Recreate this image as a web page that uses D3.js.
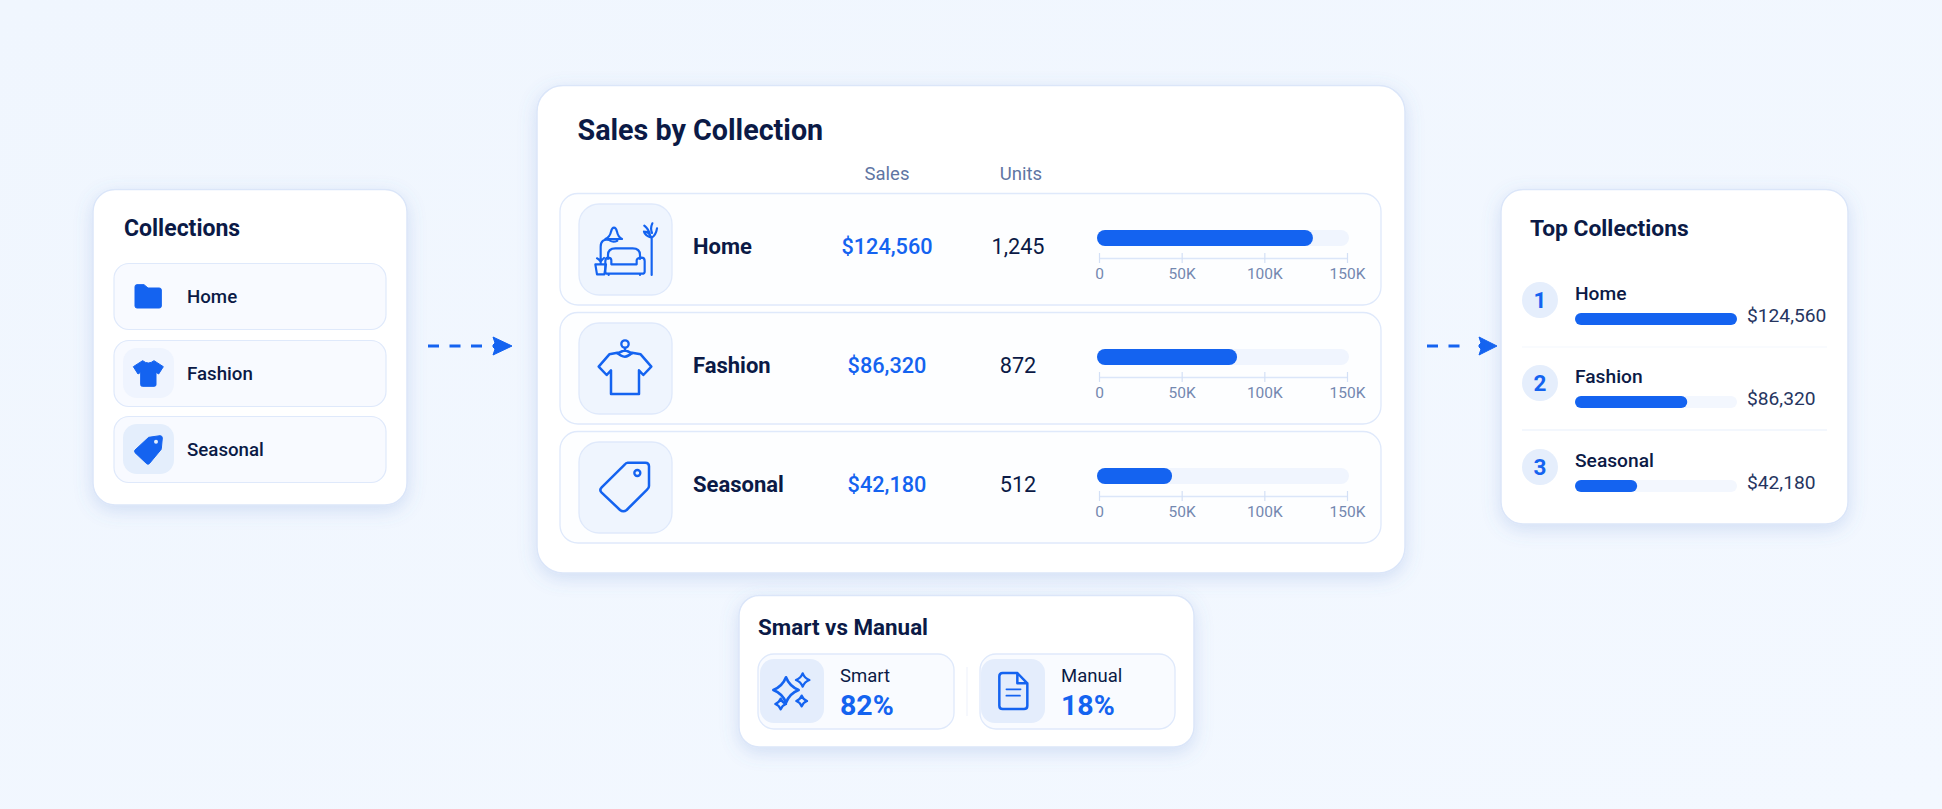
<!DOCTYPE html>
<html><head><meta charset="utf-8">
<script src="https://cdn.jsdelivr.net/npm/d3@7/dist/d3.min.js"></script>
<style>
html,body{margin:0;padding:0;background:#f1f6fe;overflow:hidden}
svg{display:block}
text{font-family:Roboto,Inter,"Noto Sans",sans-serif}
</style></head><body>
<svg id="c" width="1942" height="809"></svg>
<script>
// ---- data ----
const categories = ["Home","Fashion","Seasonal"];
const salesValues = [124560,86320,42180];
const unitValues = [1245,872,512];
// bar lengths as drawn in the picture (read against the 0-150K axis)
const salesBarLengths = [129400,83500,44200];
// bar lengths in the ranking panel (read against the full track = top seller)
const rankBarLengths = [124560,86320,47800];
const axisTicks = [0,50000,100000,150000];
const columnHeads = ["Sales","Units"];
const splitLabels = ["Smart","Manual"];
const splitValues = [82,18];

// ---- style ----
const BLUE="#1463f0", NAVY="#0b1a46", MUTED="#5f75a3", TICK="#7488b0", LINE="#dbe6f9";
const svg=d3.select("#c");
const defs=svg.append("defs");
const g0=defs.append("linearGradient").attr("id","bg").attr("x1",0).attr("y1",0).attr("x2",1).attr("y2",1);
g0.append("stop").attr("offset",0).attr("stop-color","#f0f6fe");
g0.append("stop").attr("offset",1).attr("stop-color","#f3f8ff");
const f=defs.append("filter").attr("id","sh").attr("x","-15%").attr("y","-15%").attr("width","130%").attr("height","135%");
f.append("feDropShadow").attr("dx",0).attr("dy",5).attr("stdDeviation",9).attr("flood-color","#5f86d0").attr("flood-opacity",0.22);

svg.append("rect").attr("width",1942).attr("height",809).attr("fill","url(#bg)");

function box(p,x,y,x2,y2,r,fill,stroke,sw){
  return p.append("rect").attr("x",x).attr("y",y).attr("width",x2-x).attr("height",y2-y).attr("rx",r)
    .attr("fill",fill).attr("stroke",stroke||"none").attr("stroke-width",sw||1.5);
}
function txt(p,x,y,s,size,weight,color,anchor){
  return p.append("text").attr("x",x).attr("y",y).text(s).attr("font-size",size).attr("font-weight",weight)
    .attr("fill",color).attr("text-anchor",anchor||"start");
}
// glyph group whose path coordinates are 3x, relative to an origin
function glyph(ox,oy){return svg.append("g").attr("transform",`translate(${ox},${oy}) scale(${1/3})`);}
function outline(g,d,w){return g.append("path").attr("d",d).attr("fill","none").attr("stroke",BLUE).attr("stroke-width",w||7.5)
  .attr("stroke-linejoin","round").attr("stroke-linecap","round");}
function solid(g,d){return g.append("path").attr("d",d).attr("fill",BLUE).attr("stroke",BLUE).attr("stroke-width",3).attr("stroke-linejoin","round");}
function arrow(x0,dashEnd,headX,tip,y){
  svg.append("line").attr("x1",x0).attr("x2",dashEnd).attr("y1",y).attr("y2",y)
    .attr("stroke",BLUE).attr("stroke-width",3).attr("stroke-dasharray","11 10.5");
  svg.append("path").attr("d",`M${headX},${y-9} L${tip},${y} L${headX},${y+9} L${headX+2},${y+3} L${headX},${y+1} L${headX},${y-1} L${headX+2},${y-3}Z`)
    .attr("fill",BLUE).attr("stroke",BLUE).attr("stroke-width",1).attr("stroke-linejoin","round");
}

// ---- left card ----
box(svg,93,189.5,407,505,22,"#fff",LINE,1.5).attr("filter","url(#sh)");
txt(svg,124,236,"Collections",23,700,NAVY);
const leftTops=[264,341,417];
const leftRows=svg.append("g").selectAll("g").data(categories).join("g");
leftRows.each(function(d,i){
  const g=d3.select(this),t=leftTops[i];
  box(g,114,t-.5,386,t+65.5,15,"#f8faff","#dfe9fb",1.2);
  if(i>0) box(g,123,t+7,174,t+57,14,i==1?"#eff4fe":"#e4eefc");
  txt(g,187,t+38.5,d,18.7,500,NAVY);
});
const lg=glyph(80,170);
solid(lg,"M165,350 Q165,344 171,344 H192 L204,354 H238 Q244,354 244,360 V408 Q244,414 238,414 H171 Q165,414 165,408Z");
solid(lg,"M188,572 Q205,586 222,572 L250,590 L236,612 L228,607 V644 Q228,649 223,649 H187 Q182,649 182,644 V607 L174,612 L160,590Z");
solid(lg,"M206,802 L240,797 Q247,797 247,804 L244,836 Q244,838 242,840 L208,881 Q204,884 200,881 L165,848 Q162,844 165,840Z");
lg.append("circle").attr("cx",228).attr("cy",815).attr("r",6).attr("fill","#e4eefc");

arrow(428,482,493,512,346);

// ---- main card ----
box(svg,537,85.5,1405,573,26,"#fff",LINE,1.5).attr("filter","url(#sh)");
txt(svg,577.5,140,"Sales by Collection",28.7,700,NAVY);
[887,1021].forEach((x,i)=>txt(svg,x,180,columnHeads[i],18.5,400,MUTED,"middle"));

const x=d3.scaleLinear().domain([0,150000]).range([1099,1347]);
const money=d3.format("$,"), count=d3.format(",");
const rowTops=[194,313,432];
const rows=svg.append("g").selectAll("g").data(categories).join("g");
rows.each(function(d,i){
  const g=d3.select(this),t=rowTops[i];
  box(g,560,t-.5,1381,t+111,18,"#fdfeff","#dfe9fb",1.3);
  box(g,579,t+10,672,t+101,20,"#eff5fe","#dfe9fb",1.3);
  txt(g,693,t+60,d,22,700,NAVY);
  txt(g,887,t+60,money(salesValues[i]),21.7,500,BLUE,"middle");
  txt(g,1018,t+60,count(unitValues[i]),21.7,400,NAVY,"middle");
  // track + bar
  g.append("rect").attr("x",x(0)-2).attr("y",t+36).attr("width",x(150000)-x(0)+4).attr("height",16).attr("rx",8).attr("fill","#f0f5fe");
  g.append("rect").attr("x",x(0)-2).attr("y",t+36).attr("width",x(salesBarLengths[i])-x(0)+2).attr("height",16).attr("rx",8).attr("fill",BLUE);
  // axis
  const ax=g.append("g").attr("transform",`translate(0,${t+64})`)
    .call(d3.axisBottom(x).tickValues(axisTicks).tickSizeOuter(0).tickFormat(v=>v?v/1000+"K":"0"));
  ax.select(".domain").attr("stroke","#dbe6f9").attr("stroke-width",1.5);
  ax.selectAll(".tick line").attr("y1",-5).attr("y2",5).attr("stroke","#d3e0f6").attr("stroke-width",1.2);
  ax.selectAll(".tick text").attr("y",10).attr("dy","0.71em").attr("font-size",15.5).attr("fill",TICK)
    .attr("font-family","Roboto,Inter,sans-serif");
});

const ig=glyph(530,75);
outline(ig,"M226,492 Q240,486 243,470 Q246,458 252,458 Q258,458 261,470 Q264,486 276,492Z M240,497 Q250,503 262,497",6.5);
outline(ig,"M238,495 Q212,490 212,515 V552",6.5);
outline(ig,"M196,568 H228 L223,598 H201Z M212,568 V552 M212,560 Q206,552 201,550 M212,560 Q218,552 222,549",6.5);
outline(ig,"M234,552 V540 Q234,520 256,520 H308 Q330,520 330,540 V552 M244,568 V556 Q244,550 236,548 Q226,548 226,558 V590 Q226,596 232,596 H336 Q344,596 344,590 V558 Q344,548 334,548 Q320,550 320,556 V568 Z M236,596 V600 M330,596 V600",6.5);
outline(ig,"M365,600 V488 M365,488 Q345,482 342,470 M343,452 Q356,462 360,480 M365,488 Q378,480 381,460 M367,445 Q360,460 366,474 M342,470 Q356,470 362,484",6.5);

const sg=glyph(530,300);
outline(sg,"M262,158 L238,163 L206,200 L230,225 L243,211 V282 H327 V211 L340,225 L364,200 L332,163 L306,158 Q285,182 262,158Z");
outline(sg,"M285,145 V152 M262,160 L285,150 L306,160");
sg.append("circle").attr("cx",285).attr("cy",132).attr("r",11).attr("fill","none").attr("stroke",BLUE).attr("stroke-width",7);

const tg=glyph(530,300);
outline(tg,"M293,488 H346 Q357,488 357,499 V558 Q357,564 352,568 L290,630 Q280,638 270,630 L215,578 Q207,570 215,562 L284,494 Q288,488 293,488Z");
tg.append("circle").attr("cx",322).attr("cy",519).attr("r",9).attr("fill","none").attr("stroke",BLUE).attr("stroke-width",7);

arrow(1427,1465,1479,1497,346);

// ---- right card ----
box(svg,1501,189.5,1848,524,22,"#fff",LINE,1.5).attr("filter","url(#sh)");
txt(svg,1530,236,"Top Collections",22.8,700,NAVY);
const rx=d3.scaleLinear().domain([0,d3.max(salesValues)]).range([1575,1737]);
const rankY=[300,383,467];
svg.append("line").attr("x1",1522).attr("x2",1827).attr("y1",347).attr("y2",347).attr("stroke","#f4f7fe").attr("stroke-width",1.2);
svg.append("line").attr("x1",1522).attr("x2",1827).attr("y1",430).attr("y2",430).attr("stroke","#e8effb").attr("stroke-width",1.2);
const ranks=svg.append("g").selectAll("g").data(categories).join("g");
ranks.each(function(d,i){
  const g=d3.select(this),y=rankY[i];
  g.append("circle").attr("cx",1540).attr("cy",y).attr("r",18).attr("fill","#e5eefc");
  txt(g,1540,y+8,String(i+1),22.5,700,BLUE,"middle");
  txt(g,1575,y-.5,d,19.2,500,NAVY);
  g.append("rect").attr("x",rx(0)).attr("y",y+13).attr("width",rx(d3.max(salesValues))-rx(0)).attr("height",12).attr("rx",6).attr("fill","#f3f7fe");
  g.append("rect").attr("x",rx(0)).attr("y",y+13).attr("width",rx(rankBarLengths[i])-rx(0)).attr("height",12).attr("rx",6).attr("fill",BLUE);
  txt(g,1747,y+22,money(salesValues[i]),19.2,400,"#26355f");
});

// ---- bottom card ----
box(svg,739,595.5,1194,747,20,"#fff",LINE,1.5).attr("filter","url(#sh)");
txt(svg,758,635,"Smart vs Manual",22.4,700,NAVY);
svg.append("line").attr("x1",967).attr("x2",967).attr("y1",667).attr("y2",716).attr("stroke","#f0f4fc").attr("stroke-width",1.2);
const boxX=[[758,954,760,824,840],[980,1175,981,1045,1061]];
const splits=svg.append("g").selectAll("g").data(splitLabels).join("g");
splits.each(function(d,i){
  const g=d3.select(this),b=boxX[i];
  box(g,b[0],654,b[1],729,16,"#f9fbff","#dfe9fb",1.3);
  box(g,b[2],659,b[3],723,14,"#e4edfc");
  txt(g,b[4],682,d,18.5,400,NAVY);
  txt(g,b[4],715,splitValues[i]+"%",28.5,700,BLUE);
});
const star=(cx,cy,r)=>{const k=r*0.28;return `M${cx},${cy-r} Q${cx+k},${cy-k} ${cx+r},${cy} Q${cx+k},${cy+k} ${cx},${cy+r} Q${cx-k},${cy+k} ${cx-r},${cy} Q${cx-k},${cy-k} ${cx},${cy-r}Z`;};
const bg=glyph(730,585);
outline(bg,star(168,315,38),8);
outline(bg,star(218,285,20),7);
outline(bg,star(152,357,16),7);
outline(bg,star(215,348,16),7);
outline(bg,"M818,264 H862 L892,295 V362 Q892,372 882,372 H818 Q808,372 808,362 V274 Q808,264 818,264Z M862,264 V295 H892");
outline(bg,"M829,313 H872 M829,332 H870",5);
</script>
</body></html>
